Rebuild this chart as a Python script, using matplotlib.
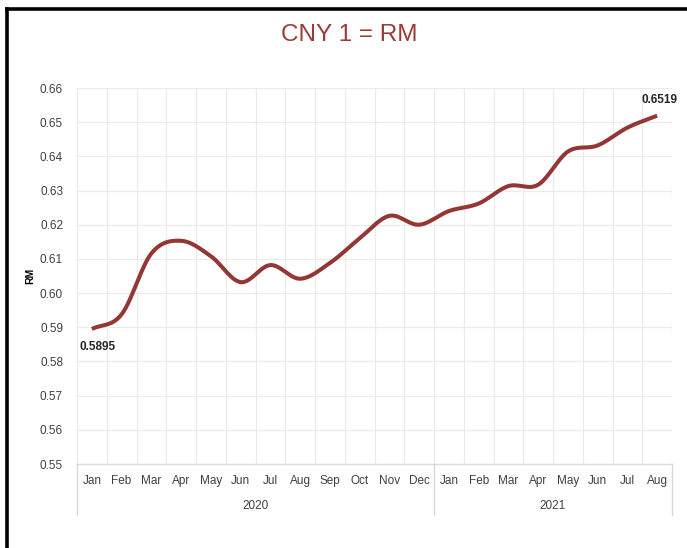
import numpy as np
import matplotlib.pyplot as plt
from matplotlib.lines import Line2D
import matplotlib.transforms as mtransforms

months = ['Jan', 'Feb', 'Mar', 'Apr', 'May', 'Jun', 'Jul', 'Aug', 'Sep', 'Oct', 'Nov', 'Dec',
          'Jan', 'Feb', 'Mar', 'Apr', 'May', 'Jun', 'Jul', 'Aug']
years = ['2020', '2021']
year_counts = [12, 8]
rates = [0.5895, 0.5938, 0.6116, 0.6153, 0.6108, 0.6032, 0.6082, 0.6042, 0.6088, 0.6160,
         0.6226, 0.6200, 0.6240, 0.6262, 0.6313, 0.6317, 0.6414, 0.6432, 0.6484, 0.6519]
yticks = [0.55, 0.56, 0.57, 0.58, 0.59, 0.60, 0.61, 0.62, 0.63, 0.64, 0.65, 0.66]
title = 'CNY 1 = RM'
ylabel = 'RM'

LINE = '#943634'
FONT = ['Liberation Sans Narrow', 'Liberation Sans', 'DejaVu Sans']
plt.rcParams['font.family'] = FONT


def smooth(x, y, n=30):
    x = np.asarray(x, float)
    y = np.asarray(y, float)
    px = np.concatenate([[2 * x[0] - x[1]], x, [2 * x[-1] - x[-2]]])
    py = np.concatenate([[2 * y[0] - y[1]], y, [2 * y[-1] - y[-2]]])
    xs, ys = [], []
    t = np.linspace(0, 1, n, endpoint=False)
    for i in range(1, len(px) - 2):
        for arr, out in ((px, xs), (py, ys)):
            p0, p1, p2, p3 = arr[i - 1], arr[i], arr[i + 1], arr[i + 2]
            out.append(0.5 * ((2 * p1) + (-p0 + p2) * t + (2 * p0 - 5 * p1 + 4 * p2 - p3) * t ** 2
                              + (-p0 + 3 * p1 - 3 * p2 + p3) * t ** 3))
    xs.append([x[-1]])
    ys.append([y[-1]])
    return np.concatenate(xs), np.concatenate(ys)


fig = plt.figure(figsize=(6.87, 5.48), dpi=100)
ax = fig.add_axes([77 / 687, 1 - 464 / 548, (672 - 77) / 687, (464 - 88) / 548])

x = np.arange(len(rates))
sx, sy = smooth(x, rates)
ax.plot(sx, sy, color=LINE, lw=2.9, solid_capstyle='butt', zorder=3)

ax.set_xlim(-0.5, len(rates) - 0.5)
ax.set_ylim(0.55, 0.66)
ax.set_yticks(yticks)
ax.set_yticklabels([f'{v:.2f}' for v in yticks], fontsize=8.5, color='#404040')
ax.set_xticks(x)
ax.set_xticklabels(months, fontsize=8.5, color='#404040')
ax.set_xticks(np.arange(-0.5, len(rates), 1), minor=True)
ax.tick_params(axis='both', which='both', length=0)
ax.tick_params(axis='x', pad=8)
ax.tick_params(axis='y', pad=10)
ax.grid(True, which='major', axis='y', color='#EBEBEB', lw=0.9)
ax.grid(True, which='minor', axis='x', color='#EBEBEB', lw=0.9)
ax.set_axisbelow(True)
for s in ['top', 'right', 'left']:
    ax.spines[s].set_visible(False)
ax.spines['bottom'].set_color('#D9D9D9')
ax.spines['bottom'].set_linewidth(1.0)

ax.set_ylabel(ylabel, fontsize=7.5, fontweight='bold', color='#000000')
ax.yaxis.set_label_coords(-(77 - 35) / 595, 0.5)

trans = mtransforms.blended_transform_factory(ax.transData, ax.transAxes)
sep_bottom = -(515 - 464) / 376
start = 0
bounds = [-0.5]
for yr, cnt in zip(years, year_counts):
    center = start + (cnt - 1) / 2
    ax.text(center, -(506 - 464) / 376, yr, transform=trans, ha='center', va='center',
            fontsize=8.5, color='#404040')
    start += cnt
    bounds.append(start - 0.5)
for b in bounds:
    ax.add_line(Line2D([b, b], [0, sep_bottom], transform=trans, color='#D9D9D9', lw=1.0, clip_on=False))

ax.annotate(f'{rates[0]:.4f}', (x[0], rates[0]), xytext=(4, -9), textcoords='offset points',
            ha='center', va='top', fontsize=8.5, fontweight='bold', color='#262626')
ax.annotate(f'{rates[-1]:.4f}', (x[-1], rates[-1]), xytext=(2, 7), textcoords='offset points',
            ha='center', va='bottom', fontsize=8.5, fontweight='bold', color='#262626')

fig.text(349 / 687, 1 - 35 / 548, title, ha='center', va='center', fontsize=17.5,
         color='#9B3A38', fontfamily=FONT)

# outer frame (top and left edges visible)
fig.add_artist(Line2D([7 / 687, 7 / 687], [0, 1 - 9 / 548], transform=fig.transFigure,
                      color='black', lw=2.6))
fig.add_artist(Line2D([7 / 687, 1], [1 - 9 / 548, 1 - 9 / 548], transform=fig.transFigure,
                      color='black', lw=2.6))

fig.savefig('out.png', dpi=100)
